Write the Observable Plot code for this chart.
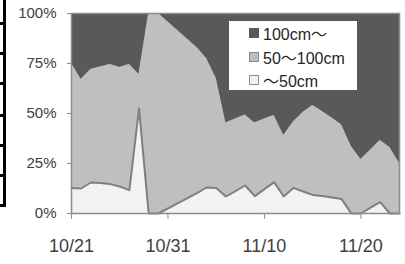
<!DOCTYPE html>
<html>
<head>
<meta charset="utf-8">
<script src="https://cdn.jsdelivr.net/npm/d3@7"></script>
<script src="https://cdn.jsdelivr.net/npm/@observablehq/plot@0.6"></script>
<style>
  html, body { margin: 0; padding: 0; background: #fff; }
  #wrap { position: relative; width: 405px; height: 264px; overflow: hidden; font-family: "Liberation Sans", "Noto Sans CJK JP", sans-serif; }
  #wrap svg { position: absolute; left: 0; top: 0; }
  .cell { position: absolute; left: 0; width: 6px; border-right: 3px solid #000; border-bottom: 3px solid #000; box-sizing: border-box; }
  #legend { position: absolute; left: 229px; top: 21px; width: 128px; height: 69px; background: #fff; }
  .item { position: absolute; left: 20px; height: 20px; display: flex; align-items: center; font-size: 16px; color: #262626; white-space: nowrap; }
  .sw { width: 10px; height: 10px; box-sizing: border-box; margin-right: 4px; }
</style>
</head>
<body>
<div id="wrap"></div>
<script>
// Dates (month/day) present in the data
const dates = ["10/21","10/22","10/23","10/24","10/25","10/26","10/27","10/28","10/29","10/30",
  "11/3","11/4","11/5","11/6","11/7","11/8","11/9","11/10","11/11","11/12","11/13","11/14",
  "11/15","11/16","11/17","11/18","11/19","11/20","11/21","11/22","11/23","11/24"];
// Series names (bottom to top)
const seriesNames = ["～50cm", "50～100cm", "100cm～"];
// Percent values for each series
const small = [12.8,12.5,15.5,15.2,14.7,13.5,11.7,52.5,0,0,
  10.2,13,12.8,8.5,11.2,14,8.7,12.2,15.7,8.5,12.8,11,
  9.3,8.7,8,7.2,0,0,2.9,5.7,0,0];
const mid = [62.2,54.5,56.5,58.1,59.8,59.5,62.8,17,100,100,
  72.8,64.5,54.7,36.8,36.1,35.3,36.6,35,33.3,30.5,32.9,39.5,
  44.7,42.3,39.7,37.1,33.5,27,28.9,30.8,33,25];
const large = [25,33,28,26.7,25.5,27,25.5,30.5,0,0,
  17,22.5,32.5,54.7,52.7,50.7,54.7,52.8,51,61,54.3,49.5,
  46,49,52.3,55.7,66.5,73,68.2,63.5,67,75];
// Axis ticks
const xTickLabels = ["10/21","10/31","11/10","11/20"];
const yTicks = [0, 25, 50, 75, 100];
const xDomain = ["10/21", "11/24"];

const toDate = s => { const [m, d] = s.split("/").map(Number); return new Date(Date.UTC(2010, m - 1, d)); };
const fmt = d => `${d.getUTCMonth() + 1}/${d.getUTCDate()}`;

const seriesValues = [small, mid, large];
const rows = [];
seriesNames.forEach((s, k) => dates.forEach((d, i) => rows.push({date: toDate(d), series: s, value: seriesValues[k][i]})));

const colors = ["#f2f2f2", "#bfbfbf", "#595959"];

const chart = Plot.plot({
  width: 405,
  height: 264,
  marginLeft: 71,
  marginRight: 6,
  marginTop: 13,
  marginBottom: 51,
  style: { fontFamily: "'Liberation Sans', 'Noto Sans CJK JP', sans-serif", background: "transparent", overflow: "visible" },
  x: { type: "utc", domain: xDomain.map(toDate) },
  y: { domain: [0, 100] },
  color: { domain: seriesNames, range: colors },
  marks: [
    Plot.areaY(rows, { x: "date", y: "value", z: "series", fill: "series", order: seriesNames }),
    Plot.lineY(rows.filter(d => d.series === seriesNames[0]), Plot.stackY2({ x: "date", y: "value", stroke: "#7f7f7f", strokeWidth: 2 })),
    Plot.frame({ stroke: "#8c8c8c", strokeWidth: 1.5 }),
    Plot.axisY({ ticks: yTicks, tickFormat: d => d + "%", tickSize: 4, tickPadding: 11, fontSize: 15, stroke: "#8c8c8c", fill: "#404040", label: null }),
    Plot.axisX({ ticks: xTickLabels.map(toDate), tickFormat: fmt, tickSize: 6, tickPadding: 20, fontSize: 18, stroke: "#8c8c8c", fill: "#404040", label: null })
  ]
});

const wrap = document.getElementById("wrap");
wrap.appendChild(chart);

// cropped table edge at left of the image
const cells = [[-5, 25], [25, 55], [55, 85], [85, 117], [117, 147], [147, 177], [177, 207]];
for (const [t, b] of cells) {
  const c = document.createElement("div");
  c.className = "cell";
  c.style.top = t + "px";
  c.style.height = (b - t) + "px";
  wrap.appendChild(c);
}

// legend (top series first)
const legend = document.createElement("div");
legend.id = "legend";
const legendOrder = [2, 1, 0];
const swStyles = ["background:#f2f2f2;border:1.5px solid #8c8c8c", "background:#bfbfbf;border:1.5px solid #8c8c8c", "background:#595959"];
legendOrder.forEach((k, j) => {
  const it = document.createElement("div");
  it.className = "item";
  it.style.top = (2 + j * 23.5) + "px";
  it.innerHTML = `<div class="sw" style="${swStyles[k]}"></div><span>${seriesNames[k]}</span>`;
  legend.appendChild(it);
});
wrap.appendChild(legend);
</script>
</body>
</html>
